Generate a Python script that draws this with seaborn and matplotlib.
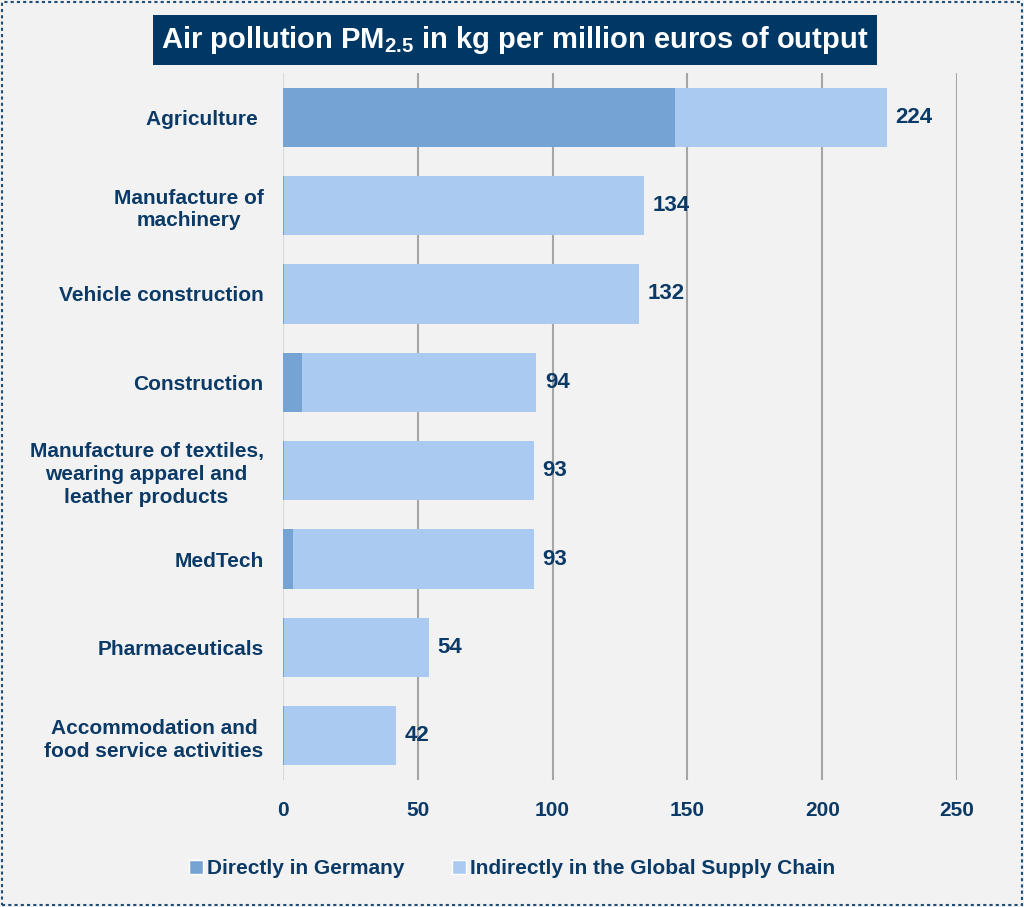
import pandas as pd
import matplotlib.pyplot as plt
import seaborn as sns
from matplotlib.patches import Rectangle, Patch


# -----------------------------
# DATA
# -----------------------------
sectors = [
    "Agriculture ",
    "Manufacture of\nmachinery",
    "Vehicle construction",
    "Construction",
    "Manufacture of textiles,\nwearing apparel and\nleather products",
    "MedTech",
    "Pharmaceuticals",
    "Accommodation and\nfood service activities",
]
direct = [145.5, 0.3, 0.3, 7.0, 0.4, 3.7, 0.4, 0.3]
total = [224, 134, 132, 94, 93, 93, 54, 42]
xticks = [0, 50, 100, 150, 200, 250]

df = pd.DataFrame({"sector": sectors, "direct": direct, "total": total})

NAVY = "#0B3A66"
DIRECT_COL = "#74A3D4"
INDIRECT_COL = "#AACAF2"
BG = "#F2F2F2"
FS = 15


# -----------------------------
# STYLE
# -----------------------------
sns.set_style("white")
plt.rcParams["font.family"] = ["Liberation Sans", "DejaVu Sans"]
plt.rcParams["font.weight"] = "bold"
plt.rcParams["mathtext.fontset"] = "custom"
plt.rcParams["mathtext.rm"] = "Liberation Sans:bold"
plt.rcParams["mathtext.default"] = "rm"

fig = plt.figure(figsize=(10.24, 9.07), dpi=100, facecolor=BG)
ax = fig.add_axes([283 / 1024, 1 - 780 / 907, (957 - 283) / 1024, (780 - 73) / 907])
ax.set_facecolor(BG)


# -----------------------------
# BARS
# -----------------------------
sns.barplot(data=df, x="total", y="sector", color=INDIRECT_COL,
            saturation=1, width=0.67, orient="h", linewidth=0, ax=ax)
sns.barplot(data=df, x="direct", y="sector", color=DIRECT_COL,
            saturation=1, width=0.67, orient="h", linewidth=0, ax=ax)

ax.bar_label(ax.containers[0], labels=[str(v) for v in total], padding=6,
             color=NAVY, fontsize=FS + 1, fontweight="bold")


# -----------------------------
# AXES
# -----------------------------
ax.set_xlim(0, 250)
ax.set_ylim(7.5, -0.5)
ax.set_xticks(xticks)
ax.set_xticklabels([str(t) for t in xticks], color=NAVY, fontsize=FS, fontweight="bold")
ax.tick_params(axis="x", length=0, pad=15)
ax.tick_params(axis="y", length=0, pad=14)
for lab in ax.get_yticklabels():
    lab.set_color(NAVY)
    lab.set_fontsize(FS)
    lab.set_fontweight("bold")
    lab.set_multialignment("center")
    lab.set_linespacing(1.25)

ax.set_xlabel("")
ax.set_ylabel("")
for s in ax.spines.values():
    s.set_visible(False)

ax.set_axisbelow(True)
ax.grid(axis="x", color="#A6A6A6", linewidth=1.5)
ax.grid(axis="y", visible=False)
ax.get_xgridlines()[0].set_color("#D9D9D9")


# -----------------------------
# TITLE
# -----------------------------
fig.text(515 / 1024, 1 - 40 / 907,
         r"Air pollution PM$_{2.5}$ in kg per million euros of output",
         ha="center", va="center", color="white", fontsize=21, fontweight="bold",
         bbox=dict(boxstyle="square,pad=0.3", facecolor="#003865", edgecolor="none"))


# -----------------------------
# LEGEND
# -----------------------------
handles = [Patch(facecolor=DIRECT_COL, label="Directly in Germany"),
           Patch(facecolor=INDIRECT_COL, label="Indirectly in the Global Supply Chain")]
leg = fig.legend(handles=handles, loc="center", bbox_to_anchor=(0.5, 1 - 869 / 907),
                 ncol=2, frameon=False, handlelength=0.65, handleheight=0.65,
                 handletextpad=0.2, columnspacing=2.3,
                 prop={"size": FS, "weight": "bold"})
for t in leg.get_texts():
    t.set_color(NAVY)


# -----------------------------
# BORDER
# -----------------------------
fig.patches.append(Rectangle((0.002, 0.002), 0.996, 0.996, transform=fig.transFigure,
                             fill=False, edgecolor="#1F4E79", linewidth=1.5,
                             linestyle=(0, (1.5, 1.5))))

plt.savefig("out.png", dpi=100, facecolor=BG)
